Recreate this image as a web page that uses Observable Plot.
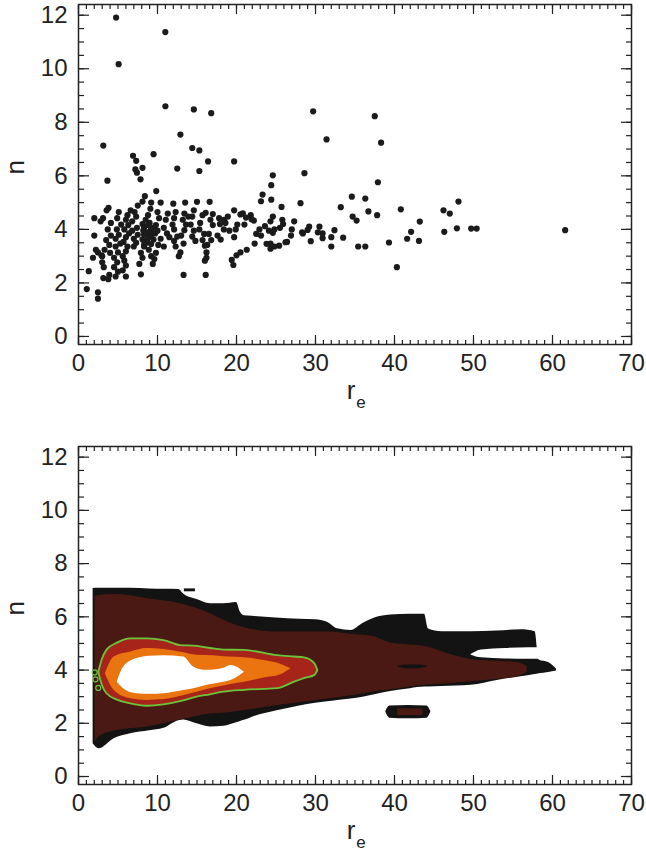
<!DOCTYPE html>
<html><head><meta charset="utf-8">
<script src="https://cdn.jsdelivr.net/npm/d3@7"></script>
<script src="https://cdn.jsdelivr.net/npm/@observablehq/plot@0.6"></script>
<style>body{margin:0;background:#fff;} svg{display:block}</style>
</head><body><div id="topPanel"></div><div id="bottomPanel"></div>
<script>
// ---- axis ticks ----
const xMajor = [0,10,20,30,40,50,60,70];
const yMajor = [0,2,4,6,8,10,12];
const xMinor = [0,1,2,3,4,5,6,7,8,9,10,11,12,13,14,15,16,17,18,19,20,21,22,23,24,25,26,27,28,29,30,31,32,33,34,35,36,37,38,39,40,41,42,43,44,45,46,47,48,49,50,51,52,53,54,55,56,57,58,59,60,61,62,63,64,65,66,67,68,69,70];
const yMinor = [0,0.5,1,1.5,2,2.5,3,3.5,4,4.5,5,5.5,6,6.5,7,7.5,8,8.5,9,9.5,10,10.5,11,11.5,12];

// ---- scatter (r_e, n) ----
const outliers = [[4.76,11.91],[10.99,11.37],[5.08,10.17],[11.0,8.6],[14.6,8.48],[16.8,8.34],[29.7,8.41],[37.5,8.23],[31.4,7.36],[38.3,7.24],[12.9,7.54],[3.14,7.13],[14.4,7.04],[15.3,6.95],[9.5,6.81],[6.9,6.75],[7.3,6.56],[16.4,6.54],[19.7,6.54],[7.2,6.24],[7.4,6.12],[8.1,6.3],[12.5,6.27],[15.3,6.18],[24.6,6.02],[28.6,6.1],[3.66,5.82],[7.85,5.87],[37.9,5.76],[24.4,5.65],[9.84,5.43],[23.3,5.3],[24.4,5.11],[23.1,5.05],[34.6,5.22],[36.3,5.15],[48.1,5.04],[8.4,5.24],[8.1,5.04],[12.0,4.96],[13.5,5.0],[15.0,5.03],[16.6,5.03],[28.1,4.98],[33.2,4.83],[25.7,4.84],[40.8,4.75],[46.2,4.71],[47.0,4.59],[36.7,4.67],[37.8,4.53]];
const groupSmall = [[1.05,1.77],[2.46,1.41],[2.46,1.65],[1.3,2.44],[2.0,3.77],[1.83,2.94],[2.46,3.14],[2.9,3.03],[3.14,2.18],[3.77,2.14],[2.8,4.3],[3.1,4.42],[3.56,4.71],[3.8,4.8],
[6.6,4.71],[6.2,4.53],[6.0,4.36],[6.3,4.16],[5.8,4.0],[6.4,3.85],[6.0,3.71],[5.7,3.53],[6.2,3.36],[6.0,3.18],[5.6,3.0],[5.8,2.83],[6.0,2.65],[5.6,2.47],[6.0,2.24],
[5.1,4.65],[4.9,4.42],[5.4,4.18],[4.85,4.0],[5.1,3.8],[4.7,3.65],[5.3,3.47],[4.7,3.36],[5.0,3.14],[4.5,2.94],[4.9,2.77],[4.5,2.59],[5.0,2.42],[4.7,2.24],
[4.1,4.24],[3.7,4.0],[4.1,3.77],[3.5,3.6],[3.9,3.42],[3.3,3.24],[4.0,3.12],[3.0,3.0],[2.0,4.42],[2.2,3.24],[3.0,2.77],[3.2,2.59],[3.9,2.3],
[7.5,4.89],[7.1,4.65],[7.3,4.48],[6.8,4.3],[7.4,4.06],[6.8,3.95],[7.5,3.8],[7.0,3.65],[7.3,3.5],[7.0,3.36],[7.9,3.12],[8.1,2.94],[7.7,2.71],[7.9,2.32]];
const groupMid = [[9.2,5.0],[9.1,4.77],[8.8,4.53],[8.5,4.36],[9.0,4.24],[8.3,4.06],[8.6,3.89],[9.2,3.77],[8.7,3.6],[8.3,3.42],[8.9,3.24],[9.2,3.0],[9.6,2.89],[9.4,2.71],
[8.1,4.2],[8.8,4.16],[9.4,4.06],[8.2,3.95],[9.1,3.95],[9.7,3.85],[8.3,3.8],[8.9,3.71],[9.5,3.62],[8.1,3.62],[8.6,3.5],[9.2,3.45],[8.3,3.36],
[10.4,5.0],[10.0,4.65],[10.2,4.42],[9.8,4.16],[10.0,3.95],[10.4,3.65],[10.1,3.42],[9.8,3.12],
[11.3,4.59],[11.05,4.36],[10.8,4.06],[11.2,3.85],[11.5,3.71],[10.8,3.36],
[12.3,4.65],[12.1,4.42],[11.9,4.18],[12.1,4.0],[12.5,3.73],[12.1,3.57],[12.3,3.36],[12.9,3.14],[12.7,3.0],
[13.4,4.59],[13.2,4.36],[13.6,4.18],[13.4,3.97],[13.0,3.77],[13.3,3.47],[13.3,2.3],[13.9,4.48],
[14.6,4.71],[14.4,4.48],[14.2,4.18],[14.6,3.95],[14.4,3.73],[14.8,3.57],
[15.7,4.53],[15.4,4.24],[15.3,4.0],[15.9,3.83],[15.7,3.6],[16.0,3.39],[16.1,4.62],
[17.0,4.57],[16.7,4.36],[17.0,4.16],[16.5,3.83],[16.8,3.6],[16.3,3.42],[16.2,3.14],[16.2,2.94],[16.0,2.83],[16.1,2.3],
[17.8,4.42],[17.9,4.2],[17.6,3.77],[18.0,3.62]];
const groupWide = [[18.4,4.36],[20.8,4.6],[22.2,4.33],[18.9,4.48],[18.6,4.24],[18.4,4.0],[19.1,3.95],
[19.7,4.71],[20.5,4.56],[20.1,4.18],[19.9,4.0],[19.7,3.71],
[21.8,4.53],[21.9,4.38],[21.2,4.44],[21.0,4.18],
[23.6,4.12],[22.9,4.0],[22.5,3.83],[23.1,3.77],[22.3,3.47],[21.3,3.24],[20.5,3.14],[20.0,3.03],[19.4,2.86],[19.6,2.67],
[25.5,4.06],[24.8,4.0],[24.1,3.95],[25.4,3.39],[24.8,3.36],[24.3,3.47],
[25.8,4.36],[25.9,4.2],[27.3,4.3],[27.0,4.0],[26.9,3.77],[26.4,3.53],[24.6,4.48],[24.3,4.3],[24.6,3.87],[24.3,3.28],[23.8,3.46],[26.2,3.52]];
const groupLarge = [[29.2,4.1],[29.0,3.98],[30.5,4.1],[28.4,3.85],[30.9,3.85],[30.9,3.67],[32.0,3.71],[32.4,3.97],[33.5,3.69],[32.0,3.36],[29.4,3.56],[28.3,3.89],[30.3,3.89],
[34.7,4.48],[35.2,4.33],[35.4,3.36],[36.3,3.36],[39.3,3.51],[41.6,3.65],[43.1,3.57],[42.1,3.91],[43.2,4.29],[40.3,2.59],[46.3,3.91],[47.9,4.04],[49.7,4.03],[50.4,4.03],[61.6,3.97]];

// ---- density contour levels: r_e, lower n, upper n ----
const blackX  = [1.85,2.6,4.5,6.6,9,10.8,12.7,13.3,15,16.7,18.4,20,20.5,21,22,25,28,30,31.5,32.8,34.5,36,37.5,39.5,42,43.8,44.3,46,49.7,53,56,57.8,58.3,59.5,60.5];
const blackHi = [7.06,7.07,7.07,7.07,7.05,7.04,7.03,6.86,6.65,6.49,6.49,6.54,6.17,6.04,6.02,5.96,5.91,5.89,5.8,5.55,5.49,5.75,5.96,6.07,6.1,6.1,5.54,5.44,5.44,5.47,5.51,5.44,4.38,4.28,4.04];
const blackLo = [1.23,1.04,1.42,1.61,1.72,1.81,2.1,2.12,1.98,1.86,1.89,2.02,2.07,2.11,2.23,2.46,2.65,2.75,2.81,2.86,2.91,2.98,3.07,3.19,3.3,3.36,3.36,3.38,3.43,3.61,3.75,3.83,3.86,3.91,3.96];
const dashX = [13.4,14.8], dashLo = [6.94,6.94], dashHi = [7.05,7.05];
const gapX  = [49.7,51,54,57,58.4], gapLo = [4.56,4.46,4.42,4.41,4.41], gapHi = [4.58,4.75,4.81,4.84,4.84];
const brownX  = [2.1,2.6,4.9,8.7,12.9,16.7,18.4,21,25.2,31.5,35,37,39.5,41.2,44,47,50,53,55.5,56.8];
const brownHi = [6.77,6.8,6.84,6.68,6.49,6.12,5.87,5.59,5.43,5.43,5.33,5.28,5.02,4.96,4.88,4.59,4.38,4.33,4.28,4.14];
const brownLo = [1.28,1.49,1.73,1.86,2.12,2.35,2.38,2.48,2.67,2.91,3.05,3.17,3.26,3.33,3.44,3.49,3.57,3.65,3.75,3.91];
const streakX = [40.4,41.5,43,44.2], streakLo = [4.12,4.05,4.05,4.12], streakHi = [4.14,4.19,4.19,4.14];
const redX  = [2.57,3.0,3.6,5,6.6,8.7,10.8,12.9,15,16.7,18.4,21,25.2,27.3,28.6,29.9,30.3];
const redHi = [3.91,4.38,4.74,5.02,5.17,5.17,5.11,4.92,4.89,4.81,4.75,4.74,4.54,4.49,4.46,4.24,3.98];
const redLo = [3.91,3.44,3.11,2.86,2.73,2.64,2.69,2.81,2.98,3.07,3.17,3.24,3.3,3.54,3.68,3.79,3.98];
const orangeX  = [3.4,4.5,6.6,8.7,10.8,13,15,17.1,19,21,23.5,25.5,26.9];
const orangeHi = [3.86,4.49,4.68,4.81,4.77,4.67,4.56,4.54,4.49,4.46,4.36,4.23,4.05];
const orangeLo = [3.86,3.24,2.92,2.86,2.89,3.02,3.17,3.33,3.44,3.54,3.7,3.81,4.05];
const whiteX  = [4.9,5.7,7.4,9,10.8,13.3,14.6,16.3,18.4,19.3,21];
const whiteHi = [3.54,4.11,4.43,4.52,4.54,4.49,4.11,3.99,4.07,4.17,3.92];
const whiteLo = [3.54,3.3,3.11,3.09,3.11,3.23,3.3,3.43,3.54,3.61,3.92];
const islandX  = [38.9,39.4,41.7,44.1,44.6], islandLo = [2.42,2.19,2.17,2.19,2.42], islandHi = [2.44,2.65,2.67,2.65,2.44];
const islandCoreX = [40.4,43.6], islandCoreLo = [2.29,2.29], islandCoreHi = [2.54,2.54];
const loopsX = [2.05,2.15,2.5], loopsY = [3.91,3.65,3.33];

const FONT = "'Liberation Sans', Arial, Helvetica, sans-serif";
const INK = "#222";

function band(xs, lo, hi) { return xs.map((x, i) => ({x, lo: lo[i], hi: hi[i]})); }
function layer(xs, lo, hi, opts) {
  return Plot.area(band(xs, lo, hi), {x1: "x", y1: "lo", y2: "hi", curve: "monotone-x", ...opts});
}

function axisMarks() {
  const tk = {tickFormat: () => "", fill: "none", label: null, stroke: INK, strokeWidth: 1.2};
  return [
    Plot.axisX(xMinor, {anchor: "bottom", tickSize: -4, ...tk}),
    Plot.axisX(xMinor, {anchor: "top", tickSize: -4, ...tk}),
    Plot.axisX(xMajor, {anchor: "bottom", tickSize: -9, ...tk}),
    Plot.axisX(xMajor, {anchor: "top", tickSize: -9, ...tk}),
    Plot.axisY(yMinor, {anchor: "left", tickSize: -6, ...tk}),
    Plot.axisY(yMinor, {anchor: "right", tickSize: -6, ...tk}),
    Plot.axisY(yMajor, {anchor: "left", tickSize: -11, ...tk}),
    Plot.axisY(yMajor, {anchor: "right", tickSize: -11, ...tk}),
    Plot.axisX(xMajor, {anchor: "bottom", tickSize: 0, tickPadding: 9, label: null, fill: INK}),
    Plot.axisY(yMajor, {anchor: "left", tickSize: 0, tickPadding: 11, label: null, fill: INK}),
    Plot.frame({stroke: INK, strokeWidth: 1.5}),
    Plot.text(["n"], {text: d => d, frameAnchor: "left", dx: -63, rotate: -90, fontSize: 26, fill: INK}),
    Plot.text(["r"], {text: d => d, frameAnchor: "bottom", dx: -4, dy: 54, fontSize: 26, fill: INK}),
    Plot.text(["e"], {text: d => d, frameAnchor: "bottom", dx: 6, dy: 63, fontSize: 17, fill: INK})
  ];
}

const common = {
  width: 646,
  marginLeft: 78, marginRight: 15, marginBottom: 76,
  x: {domain: [0, 70]},
  y: {domain: [-0.3, 12.4]},
  style: {fontFamily: FONT, fontSize: "24px", color: INK, background: "#fff", overflow: "visible"}
};

const allPoints = [...groupSmall, ...groupMid, ...groupWide, ...groupLarge, ...outliers];

const scatterPlot = Plot.plot({
  ...common, height: 420, marginTop: 4,
  marks: [
    Plot.dot(allPoints, {x: d => d[0], y: d => d[1], r: 3.1, fill: "#1b1b1b", stroke: "none"}),
    ...axisMarks()
  ]
});
document.getElementById("topPanel").append(scatterPlot);

const contourPlot = Plot.plot({
  ...common, height: 440, marginTop: 26,
  marks: [
    layer(blackX, blackLo, blackHi, {fill: "#131313"}),
    layer(dashX, dashLo, dashHi, {fill: "#131313", curve: "linear"}),
    layer(gapX, gapLo, gapHi, {fill: "#fff"}),
    layer(brownX, brownLo, brownHi, {fill: "#4a1914"}),
    layer(streakX, streakLo, streakHi, {fill: "#131313"}),
    layer(redX, redLo, redHi, {fill: "#a6241a", stroke: "#6dc43a", strokeWidth: 1.8}),
    layer(orangeX, orangeLo, orangeHi, {fill: "#ea740f"}),
    layer(whiteX, whiteLo, whiteHi, {fill: "#fff"}),
    layer(islandX, islandLo, islandHi, {fill: "#131313"}),
    layer(islandCoreX, islandCoreLo, islandCoreHi, {fill: "#4a1914", curve: "linear"}),
    Plot.dot(loopsX.map((x, i) => [x, loopsY[i]]), {x: d => d[0], y: d => d[1], r: 2.5, fill: "none", stroke: "#6dc43a", strokeWidth: 1.2}),
    ...axisMarks()
  ]
});
document.getElementById("bottomPanel").append(contourPlot);
</script>
</body></html>
